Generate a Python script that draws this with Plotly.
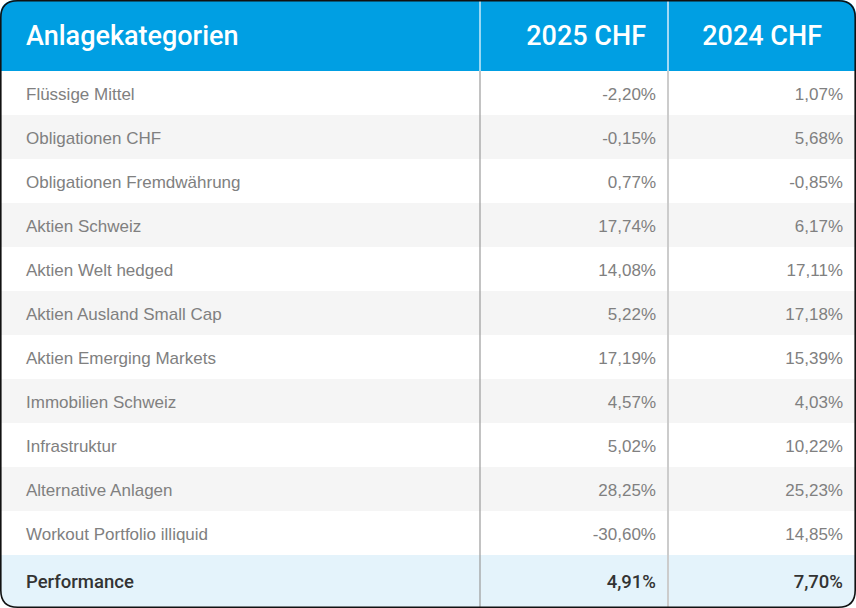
import plotly.graph_objects as go

HEADERS = ["Anlagekategorien", "2025 CHF", "2024 CHF"]
CATEGORIES = [
    "Flüssige Mittel", "Obligationen CHF", "Obligationen Fremdwährung",
    "Aktien Schweiz", "Aktien Welt hedged", "Aktien Ausland Small Cap",
    "Aktien Emerging Markets", "Immobilien Schweiz", "Infrastruktur",
    "Alternative Anlagen", "Workout Portfolio illiquid",
]
PERF_2025 = ["-2,20%", "-0,15%", "0,77%", "17,74%", "14,08%", "5,22%",
             "17,19%", "4,57%", "5,02%", "28,25%", "-30,60%"]
PERF_2024 = ["1,07%", "5,68%", "-0,85%", "6,17%", "17,11%", "17,18%",
             "15,39%", "4,03%", "10,22%", "25,23%", "14,85%"]
TOTAL_LABEL = "Performance"
TOTAL_2025 = "4,91%"
TOTAL_2024 = "7,70%"

W, H = 856, 608
HEAD_H, ROW_H = 71, 44
BLUE = "#009fe3"
FONT = "Liberation Sans"
DY = 3  # Text sitzt in plotly leicht zu hoch

# Zeilengeometrie (Pixel) aus den Daten ableiten
n = len(CATEGORIES)
tops = [HEAD_H + i * ROW_H for i in range(n)]
tot_top = HEAD_H + n * ROW_H
row_y = [t + ROW_H / 2 for t in tops]
tot_y = (tot_top + H) / 2
fills = ["#ffffff" if i % 2 == 0 else "#f5f5f5" for i in range(n)]

fig = go.Figure()

# Hintergrund der Zeilen als horizontale Balken
fig.add_trace(go.Bar(
    orientation="h", y=[HEAD_H / 2] + row_y + [tot_y], x=[W] * (n + 2), base=0,
    width=[HEAD_H] + [ROW_H] * n + [H - tot_top],
    marker=dict(color=[BLUE] + fills + ["#e4f3fb"], line=dict(width=0)),
    hoverinfo="skip", showlegend=False,
))

# Kopfzeile
fig.add_trace(go.Scatter(
    x=[26, 646, 822], y=[HEAD_H / 2 + DY] * 3, mode="text", text=HEADERS,
    textposition=["middle right", "middle left", "middle left"],
    textfont=dict(family="Roboto", size=27, color="white", weight=500),
    hoverinfo="skip", showlegend=False,
))

# Kategorien und Werte
body_font = dict(family=FONT, size=17, color="#808080")
fig.add_trace(go.Scatter(
    x=[26] * n, y=[y + DY for y in row_y], mode="text", text=CATEGORIES,
    textposition="middle right", textfont=body_font, hoverinfo="skip", showlegend=False,
))
for xr, vals in [(656, PERF_2025), (843, PERF_2024)]:
    fig.add_trace(go.Scatter(
        x=[xr] * n, y=[y + DY for y in row_y], mode="text", text=vals,
        textposition="middle left", textfont=body_font, hoverinfo="skip", showlegend=False,
    ))

# Performance-Zeile
fig.add_trace(go.Scatter(
    x=[26, 656, 843], y=[tot_y + 2] * 3, mode="text",
    text=[TOTAL_LABEL, TOTAL_2025, TOTAL_2024],
    textposition=["middle right", "middle left", "middle left"],
    textfont=dict(family="Roboto", size=18.5, color="#333333", weight=500),
    hoverinfo="skip", showlegend=False,
))

shapes = []
for x, hc, bc, lw in [(480, "#ffffff", "#9a9a9a", 1.2), (668, "#a3d9f5", "#cccccc", 2)]:
    shapes.append(dict(type="line", xref="x", yref="y", x0=x, x1=x, y0=0, y1=HEAD_H,
                       line=dict(color=hc, width=lw)))
    shapes.append(dict(type="line", xref="x", yref="y", x0=x, x1=x, y0=HEAD_H, y1=H,
                       line=dict(color=bc, width=lw)))

# abgerundeter Rahmen mit weissen Ecken
r = 17
a, b, c, d = 0.8, W - 0.8, 0.8, H - 0.8
for cx, cy, sx, sy in [(0, 0, 1, 1), (W, 0, -1, 1), (0, H, 1, -1), (W, H, -1, -1)]:
    shapes.append(dict(type="path", xref="x", yref="y",
                       path=f"M {cx},{cy} L {cx + sx * r},{cy} Q {cx},{cy} {cx},{cy + sy * r} Z",
                       fillcolor="white", line=dict(width=0)))
border = (f"M {a + r},{c} L {b - r},{c} Q {b},{c} {b},{c + r} L {b},{d - r} "
          f"Q {b},{d} {b - r},{d} L {a + r},{d} Q {a},{d} {a},{d - r} "
          f"L {a},{c + r} Q {a},{c} {a + r},{c} Z")
shapes.append(dict(type="path", xref="x", yref="y", path=border,
                   line=dict(color="#111111", width=1.6)))

fig.update_layout(
    width=W, height=H,
    margin=dict(l=0, r=0, t=0, b=0),
    paper_bgcolor="white", plot_bgcolor="white",
    bargap=0,
    xaxis=dict(range=[0, W], visible=False, fixedrange=True),
    yaxis=dict(range=[H, 0], visible=False, fixedrange=True),
    shapes=shapes,
)
fig.write_html("out.html", config={"displayModeBar": False},
               post_script="document.body.style.margin='0';")
